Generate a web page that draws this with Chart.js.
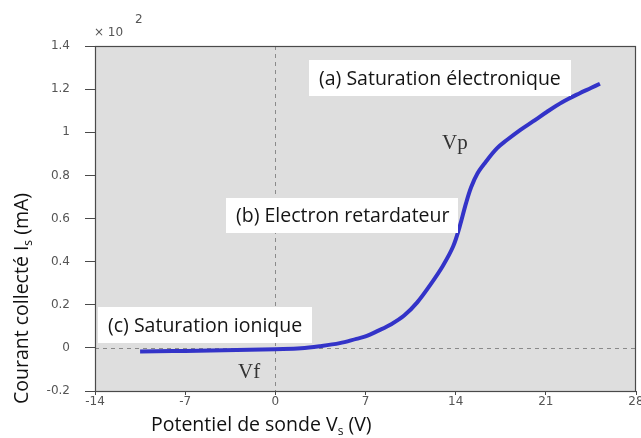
<!DOCTYPE html>
<html>
<head>
<meta charset="utf-8">
<script src="https://cdn.jsdelivr.net/npm/chart.js@4.4.0/dist/chart.umd.min.js"></script>
<style>
  html, body { margin: 0; padding: 0; background: #fff; }
  #wrap { width: 641px; height: 438px; position: relative; }
</style>
</head>
<body>
<div id="wrap"><canvas id="probe"></canvas></div>
<script>
// Langmuir probe characteristic: probe potential (V) vs collected current (x10^2 mA)
var potential = [-10.5, -8, -6, -4, -2, 0, 2, 3.5, 5, 6.3, 7, 8, 9, 10, 11, 12, 13, 13.8, 14.3, 14.8, 15.2, 15.7, 16.3, 17.2, 18, 19, 20, 21.1, 22.3, 23.6, 24.5, 25.2];
var current = [-0.017, -0.015, -0.013, -0.011, -0.009, -0.006, -0.002, 0.008, 0.022, 0.042, 0.053, 0.08, 0.11, 0.15, 0.21, 0.29, 0.38, 0.47, 0.56, 0.67, 0.745, 0.81, 0.86, 0.925, 0.965, 1.01, 1.05, 1.095, 1.14, 1.18, 1.205, 1.225];

var xTicks = [-14, -7, 0, 7, 14, 21, 28];
var yTicks = [-0.2, 0, 0.2, 0.4, 0.6, 0.8, 1, 1.2, 1.4];

var regionLabels = ['(a) Saturation électronique', '(b) Electron retardateur', '(c) Saturation ionique'];
var pointLabels = ['Vp', 'Vf'];

var points = potential.map(function(v, i){ return { x: v, y: current[i] }; });

var sansFont = '"Open Sans", "Noto Sans", sans-serif';
var tickFont = { family: '"DejaVu Sans", sans-serif', size: 12 };

// background, frame, dashed reference lines and all the hand-placed text
var decorPlugin = {
  id: 'decor',
  beforeDraw: function(chart) {
    var ctx = chart.ctx, a = chart.chartArea;
    ctx.save();
    ctx.fillStyle = '#dedede';
    ctx.fillRect(a.left, a.top, a.right - a.left, a.bottom - a.top);
    ctx.restore();
  },
  beforeDatasetsDraw: function(chart) {
    var ctx = chart.ctx, a = chart.chartArea;
    var sx = chart.scales.x, sy = chart.scales.y;
    ctx.save();
    ctx.strokeStyle = '#8a8a8a';
    ctx.lineWidth = 1;
    ctx.setLineDash([4, 4]);
    var x0 = Math.round(sx.getPixelForValue(0)) + 0.5;
    var y0 = Math.round(sy.getPixelForValue(0)) + 0.5;
    ctx.beginPath();
    ctx.moveTo(x0, a.top); ctx.lineTo(x0, a.bottom);
    ctx.moveTo(a.left, y0); ctx.lineTo(a.right, y0);
    ctx.stroke();
    ctx.restore();
  },
  afterDraw: function(chart) {
    var ctx = chart.ctx, a = chart.chartArea;
    ctx.save();
    ctx.strokeStyle = '#4a4a4a';
    ctx.lineWidth = 1.2;
    ctx.strokeRect(a.left + 0.5, a.top + 0.5, a.right - a.left - 1, a.bottom - a.top);

    // white label boxes
    function box(text, x, y, w, h) {
      ctx.fillStyle = '#ffffff';
      ctx.fillRect(x, y, w, h);
      ctx.fillStyle = '#151515';
      ctx.font = '19.5px ' + sansFont;
      ctx.textAlign = 'left';
      ctx.textBaseline = 'middle';
      ctx.fillText(text, x + 10, y + h / 2 + 1);
    }
    box(regionLabels[0], 309, 60, 262, 36);
    box(regionLabels[1], 226, 198, 232, 35);
    box(regionLabels[2], 98, 307, 214, 36);

    ctx.fillStyle = '#333';
    ctx.font = '21px "Liberation Serif", "DejaVu Serif", serif';
    ctx.textBaseline = 'alphabetic';
    ctx.fillText(pointLabels[0], 442, 149);
    ctx.fillText(pointLabels[1], 238, 378);

    // exponent marker above the y axis
    ctx.fillStyle = '#555';
    ctx.font = '12px "DejaVu Sans", sans-serif';
    ctx.fillText('\u00d7 10', 94, 36);
    ctx.fillText('2', 135, 23);

    // axis titles with subscripts
    ctx.fillStyle = '#111';
    function subTitle(parts, x, y) {
      var cx = x;
      parts.forEach(function(p){
        ctx.font = (p.sub ? '12px ' : '19.5px ') + sansFont;
        ctx.fillText(p.t, cx, y + (p.sub ? 4 : 0));
        cx += ctx.measureText(p.t).width;
      });
    }
    subTitle([{ t: 'Potentiel de sonde V' }, { t: 's', sub: true }, { t: ' (V)' }], 151, 431);
    ctx.save();
    ctx.translate(28, 404);
    ctx.rotate(-Math.PI / 2);
    subTitle([{ t: 'Courant collecté I' }, { t: 's', sub: true }, { t: ' (mA)' }], 0, 0);
    ctx.restore();
    ctx.restore();
  }
};

new Chart(document.getElementById('probe'), {
  type: 'line',
  data: {
    datasets: [{
      data: points,
      borderColor: '#3333c8',
      borderWidth: 4,
      pointRadius: 0,
      fill: false,
      tension: 0.35
    }]
  },
  options: {
    responsive: true,
    maintainAspectRatio: false,
    animation: false,
    parsing: false,
    layout: { padding: { top: 46, right: 5, left: 0, bottom: 0 } },
    plugins: { legend: { display: false }, tooltip: { enabled: false } },
    scales: {
      x: {
        type: 'linear',
        min: xTicks[0],
        max: xTicks[xTicks.length - 1],
        afterBuildTicks: function(s){ s.ticks = xTicks.map(function(v){ return { value: v }; }); },
        afterFit: function(s){ s.height = 47; s.paddingLeft = 0; s.paddingRight = 0; },
        border: { display: false },
        grid: { display: true, drawOnChartArea: false, drawTicks: true, tickLength: 4, color: '#4a4a4a' },
        ticks: { color: '#555', font: tickFont, padding: 0, maxRotation: 0, autoSkip: false }
      },
      y: {
        type: 'linear',
        min: yTicks[0],
        max: yTicks[yTicks.length - 1],
        afterBuildTicks: function(s){ s.ticks = yTicks.map(function(v){ return { value: v }; }); },
        afterFit: function(s){ s.width = 95; s.paddingTop = 0; s.paddingBottom = 0; },
        border: { display: false },
        grid: { display: true, drawOnChartArea: false, drawTicks: true, tickLength: 10, color: '#4a4a4a' },
        ticks: {
          color: '#555', font: tickFont, padding: 15, autoSkip: false,
          callback: function(v){ return String(Math.round(v * 10) / 10); }
        }
      }
    }
  },
  plugins: [decorPlugin]
});
</script>
</body>
</html>
